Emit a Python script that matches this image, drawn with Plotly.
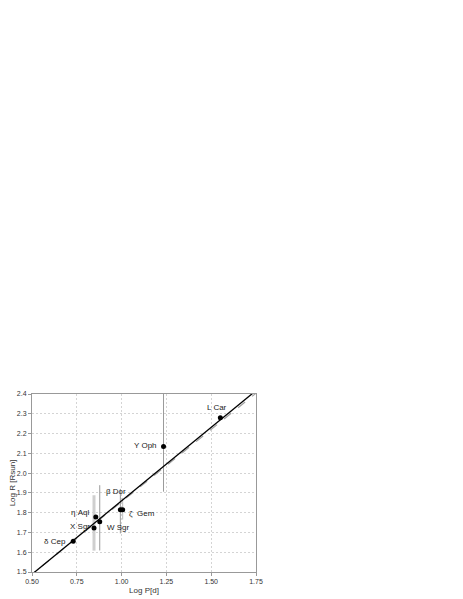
import plotly.graph_objects as go

# cepheid data
names = ["δ Cep", "X Sgr", "η Aql", "W Sgr", "β Dor", "ζ  Gem", "Y Oph", "L Car"]
log_p = [0.730, 0.846, 0.856, 0.878, 0.993, 1.006, 1.234, 1.551]
log_r = [1.655, 1.723, 1.778, 1.754, 1.815, 1.815, 2.134, 2.280]

# error bars (plus / minus)
err_names = ["X Sgr", "W Sgr", "β Dor", "ζ  Gem", "Y Oph"]
err_plus = [0.165, 0.185, 0.105, 0.06, 0.32]
err_minus = [0.115, 0.145, 0.12, 0.05, 0.228]

# fitted relations
fit_a, fit_b = 0.743, 1.117
fit2_a, fit2_b = 0.732, 1.123
fit_x = [0.40, 1.80]

# label offsets in px (dx, dy, xanchor)
lab_pos = {
    "δ Cep": (-5, 0, "right"),
    "X Sgr": (-2, 1, "right"),
    "η Aql": (-5, 5, "right"),
    "W Sgr": (5, -6, "left"),
    "β Dor": (-16, 18, "left"),
    "ζ  Gem": (4, -4, "left"),
    "Y Oph": (-5, 1, "right"),
    "L Car": (-3, 10, "center"),
}

fig = go.Figure()

err_style = {
    "X Sgr": ("#cfcfcf", 3),
    "W Sgr": ("#9a9a9a", 1),
    "β Dor": ("#9a9a9a", 1),
    "ζ  Gem": ("#bdbdbd", 1),
    "Y Oph": ("#9a9a9a", 1),
}
for n, ep, em in zip(err_names, err_plus, err_minus):
    i = names.index(n)
    col, w = err_style[n]
    fig.add_trace(go.Scatter(
        x=[log_p[i]], y=[log_r[i]], mode="markers",
        marker=dict(size=1, color="rgba(0,0,0,0)"),
        error_y=dict(type="data", symmetric=False, array=[ep], arrayminus=[em],
                     color=col, thickness=w, width=0),
        showlegend=False, hoverinfo="skip"))

fig.add_trace(go.Scatter(
    x=fit_x, y=[fit2_a * x + fit2_b for x in fit_x], mode="lines",
    line=dict(color="#a0a0a0", width=1.2, dash="dash"), showlegend=False))
fig.add_trace(go.Scatter(
    x=fit_x, y=[fit_a * x + fit_b for x in fit_x], mode="lines",
    line=dict(color="black", width=1.3), showlegend=False))

fig.add_trace(go.Scatter(
    x=log_p, y=log_r, mode="markers",
    marker=dict(size=5, color="black"), showlegend=False))

for n, x, y in zip(names, log_p, log_r):
    dx, dy, xa = lab_pos[n]
    fig.add_annotation(x=x, y=y, text=n, showarrow=False, xanchor=xa, yanchor="middle",
                       xshift=dx, yshift=dy, font=dict(size=8, color="#222"))

axis_common = dict(
    showline=True, linecolor="#999", linewidth=1, mirror=True,
    showgrid=True, gridcolor="#d4d4d4", griddash="2px,2px", gridwidth=1,
    ticks="outside", ticklen=3, tickcolor="#999",
    tickfont=dict(size=7, color="#333"), zeroline=False, automargin=False,
)
fig.update_xaxes(range=[0.5, 1.75], dtick=0.25, tickformat=".2f",
                 title=dict(text="Log P[d]", font=dict(size=8, color="#333"), standoff=2),
                 **axis_common)
fig.update_yaxes(range=[1.5, 2.4], dtick=0.1, tickformat=".1f",
                 title=dict(text="Log R [Rsun]", font=dict(size=8, color="#333"), standoff=4),
                 **axis_common)

# page body has an 8px margin, so the figure is a bit smaller than the window
fig.update_layout(
    width=455, height=591,
    margin=dict(l=24, r=207, t=386, b=27),
    plot_bgcolor="white", paper_bgcolor="white",
    font=dict(family="Liberation Sans, Arial, sans-serif"),
)

fig.write_html("out.html")
